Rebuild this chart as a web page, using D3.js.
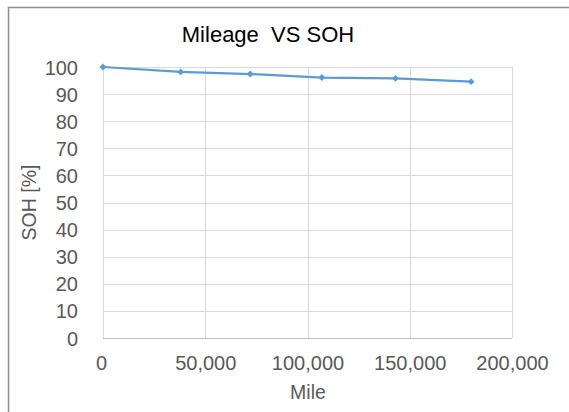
<!DOCTYPE html>
<html>
<head>
<meta charset="utf-8">
<script src="https://cdn.jsdelivr.net/npm/d3@7"></script>
<style>
  body { margin: 0; background: #fff; }
  text { font-family: "Liberation Sans", Arial, sans-serif; }
</style>
</head>
<body>
<div id="chart"></div>
<script>
// data
const miles = [0, 38000, 72000, 107000, 143000, 180000];
const soh = [100, 98.2, 97.4, 96.1, 95.8, 94.6];
const xTicks = [0, 50000, 100000, 150000, 200000];
const yTicks = [0, 10, 20, 30, 40, 50, 60, 70, 80, 90, 100];

const width = 569, height = 412;
const margin = {top: 67, right: 57, bottom: 74, left: 103};

const svg = d3.select("#chart").append("svg")
    .attr("width", width)
    .attr("height", height);

// outer frame
svg.append("rect")
    .attr("x", 8.5).attr("y", 7.5)
    .attr("width", width).attr("height", height)
    .attr("fill", "#fff")
    .attr("stroke", "#8c8c8c")
    .attr("stroke-width", 1.5);

const x = d3.scaleLinear().domain([0, 200000]).range([margin.left, width - margin.right]);
const y = d3.scaleLinear().domain([0, 100]).range([height - margin.bottom, margin.top]);

// gridlines
svg.append("g").selectAll("line.h")
    .data(yTicks)
    .enter().append("line")
    .attr("x1", x(0)).attr("x2", x(200000))
    .attr("y1", d => Math.round(y(d)) + 0.5).attr("y2", d => Math.round(y(d)) + 0.5)
    .attr("stroke", "#d9d9d9");

svg.append("g").selectAll("line.v")
    .data(xTicks)
    .enter().append("line")
    .attr("x1", d => Math.round(x(d)) + 0.5).attr("x2", d => Math.round(x(d)) + 0.5)
    .attr("y1", y(0)).attr("y2", y(100))
    .attr("stroke", "#d9d9d9");

// axes
const fmt = d3.format(",");
const xAxis = svg.append("g")
    .attr("transform", "translate(0," + (y(0) + 15) + ")")
    .call(d3.axisBottom(x).tickValues(xTicks).tickFormat(fmt).tickSize(0));
xAxis.select(".domain").remove();
xAxis.selectAll("text").attr("fill", "#595959").style("font-size", "20px");
xAxis.selectAll(".tick").filter(d => d === 0).select("text").attr("dx", "-2");

const yAxis = svg.append("g")
    .attr("transform", "translate(" + (x(0) - 22) + ",0)")
    .call(d3.axisLeft(y).tickValues(yTicks).tickSize(0));
yAxis.select(".domain").remove();
yAxis.selectAll("text").attr("fill", "#595959").style("font-size", "20px").attr("dy", "0.35em");

// baseline axis line
svg.append("line")
    .attr("x1", x(0)).attr("x2", x(200000))
    .attr("y1", Math.round(y(0)) + 0.5).attr("y2", Math.round(y(0)) + 0.5)
    .attr("stroke", "#bfbfbf");

// series
const line = d3.line()
    .x((d, i) => x(miles[i]))
    .y(d => y(d));

svg.append("path")
    .datum(soh)
    .attr("d", line)
    .attr("fill", "none")
    .attr("stroke", "#5b9bd5")
    .attr("stroke-width", 2.25);

// excel-style diamond markers (square turned 45deg)
svg.append("g").selectAll("path.m")
    .data(soh)
    .enter().append("path")
    .attr("d", d3.symbol().type(d3.symbolSquare).size(24))
    .attr("transform", (d, i) => "translate(" + x(miles[i]) + "," + y(d) + ") rotate(45)")
    .attr("fill", "#5b9bd5");

// titles
svg.append("text")
    .attr("x", 268).attr("y", 42)
    .attr("text-anchor", "middle")
    .style("font-size", "22px")
    .style("white-space", "pre")
    .attr("fill", "#000")
    .text("Mileage  VS SOH");

svg.append("text")
    .attr("x", 308).attr("y", 399)
    .attr("text-anchor", "middle")
    .style("font-size", "19.5px")
    .attr("fill", "#595959")
    .text("Mile");

svg.append("text")
    .attr("transform", "translate(36," + y(50) + ") rotate(-90)")
    .attr("text-anchor", "middle")
    .style("font-size", "19.5px")
    .attr("fill", "#595959")
    .text("SOH [%]");
</script>
</body>
</html>
